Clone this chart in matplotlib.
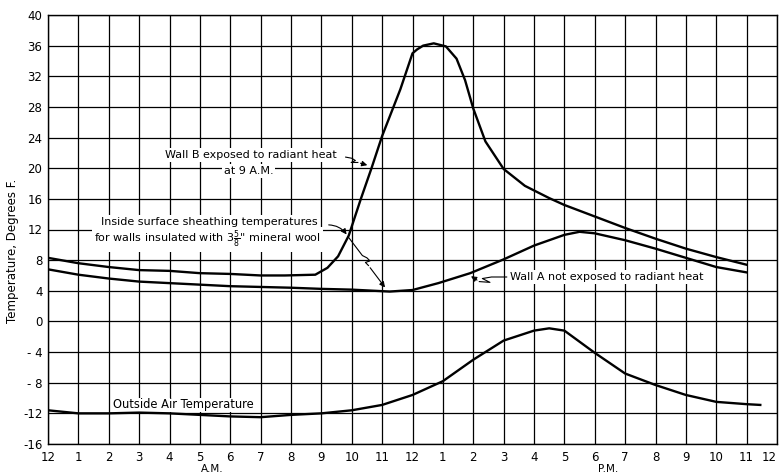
import matplotlib.pyplot as plt

# hours after midnight (0 = 12 A.M., 12 = noon, 24 = next midnight)
wall_b_hours = [0, 1, 2, 3, 4, 5, 6, 7, 7.8, 8.8, 9.2, 9.55, 9.9, 10.3, 10.65, 11.0, 11.6,
                12.0, 12.15, 12.35, 12.7, 13.1, 13.45, 13.73, 14.0, 14.4, 15.0, 15.7, 16.5,
                17, 18, 19, 20, 21, 22, 23]
wall_b = [8.3, 7.6, 7.1, 6.7, 6.6, 6.3, 6.2, 6.0, 6.0, 6.1, 7.0, 8.5, 11.2, 16.0, 20.0, 24.2, 30.3,
          35.0, 35.5, 36.0, 36.3, 35.9, 34.3, 31.5, 27.8, 23.5, 19.9, 17.7, 16.1,
          15.2, 13.7, 12.2, 10.8, 9.5, 8.4, 7.4]

wall_a_hours = [0, 1, 2, 3, 4, 5, 6, 7, 8, 9, 10, 11.25, 12, 12.85, 13.9, 15.0, 16.0, 17.0,
                17.5, 18.0, 19.0, 20.0, 21.0, 22.0, 23.0]
wall_a = [6.8, 6.1, 5.6, 5.2, 5.0, 4.8, 4.6, 4.5, 4.4, 4.25, 4.15, 3.9, 4.1, 5.0, 6.3, 8.1, 9.9, 11.3,
          11.7, 11.5, 10.6, 9.5, 8.3, 7.1, 6.4]

air_hours = [0, 1, 2, 3, 4, 5, 6, 7, 8, 9, 10, 11, 12, 13, 14, 15, 16, 16.5, 17, 18, 19, 20,
             21, 22, 23, 23.45]
air = [-11.6, -12.0, -12.0, -11.9, -12.0, -12.2, -12.4, -12.5, -12.2, -12.0, -11.6, -10.9, -9.6,
       -7.8, -5.0, -2.5, -1.2, -0.9, -1.2, -4.1, -6.8, -8.3, -9.6, -10.5, -10.8, -10.9]

x_labels = ['12', '1', '2', '3', '4', '5', '6', '7', '8', '9', '10', '11',
            '12', '1', '2', '3', '4', '5', '6', '7', '8', '9', '10', '11', '12']
y_values = list(range(-16, 41, 4))
y_labels = ['-16', '-12', '- 8', '- 4', '0', '4', '8', '12', '16', '20', '24', '28', '32', '36', '40']

plt.rcParams['font.family'] = ['DejaVu Sans']
plt.rcParams['mathtext.fontset'] = 'dejavusans'

fig = plt.figure(figsize=(7.79, 4.75), dpi=100)
ax = fig.add_axes([48 / 779, 31 / 475, 729 / 779, 429 / 475])

ax.plot(wall_b_hours, wall_b, color='black', lw=1.7, zorder=3)
ax.plot(wall_a_hours, wall_a, color='black', lw=1.7, zorder=3)
ax.plot(air_hours, air, color='black', lw=1.7, zorder=3)

ax.set_xlim(0, 24)
ax.set_ylim(-16, 40)
ax.set_xticks(range(25))
ax.set_xticklabels(x_labels, fontsize=8.5)
ax.get_xticklabels()[-1].set_horizontalalignment('right')
ax.set_yticks(y_values)
ax.set_yticklabels(y_labels, fontsize=8.5)
ax.tick_params(length=0, pad=5)
ax.tick_params(axis='y', pad=4)
ax.grid(True, color='black', lw=0.9)
ax.set_axisbelow(True)
for s in ax.spines.values():
    s.set_linewidth(1.0)

ax.set_ylabel('Temperature, Degrees F.', fontsize=8.5)
ax.yaxis.set_label_coords(-0.04, 0.45)

tr = ax.get_xaxis_transform()
ax.text(5.4, -0.058, 'A.M.', transform=tr, ha='center', va='center', fontsize=7.5)
ax.text(18.45, -0.058, 'P.M.', transform=tr, ha='center', va='center', fontsize=7.5)

box = dict(facecolor='white', edgecolor='none', pad=1.5)

# Wall B label
ax.text(6.68, 21.7, 'Wall B exposed to radiant heat', ha='center', va='center', fontsize=8, bbox=box, zorder=4)
ax.text(6.6, 19.6, 'at 9 A.M.', ha='center', va='center', fontsize=8, bbox=box, zorder=4)
ax.plot([9.8, 10.0, 10.12, 9.98, 10.2], [21.45, 21.3, 21.0, 20.75, 20.75], color='black', lw=0.8, zorder=4)
ax.annotate('', xy=(10.6, 20.3), xytext=(10.2, 20.75),
            arrowprops=dict(arrowstyle='-|>', lw=0.8, color='black', mutation_scale=8), zorder=4)

# inside surface label
ax.text(5.3, 13.0, 'Inside surface sheathing temperatures', ha='center', va='center',
        fontsize=8, bbox=box, zorder=4)
ax.text(5.25, 10.7, r'for walls insulated with $3\frac{5}{8}$" mineral wool', ha='center', va='center',
        fontsize=8, bbox=box, zorder=4)
ax.annotate('', xy=(9.88, 11.05), xytext=(9.15, 12.6),
            arrowprops=dict(arrowstyle='-|>', lw=0.8, color='black', mutation_scale=8,
                            connectionstyle='arc3,rad=-0.3'), zorder=4)
ax.plot([9.88, 10.35, 10.5, 10.6, 10.45, 10.55], [11.05, 8.6, 8.3, 7.9, 7.7, 7.3], color='black', lw=0.8, zorder=4)
ax.annotate('', xy=(11.15, 4.15), xytext=(10.55, 7.3),
            arrowprops=dict(arrowstyle='-|>', lw=0.8, color='black', mutation_scale=8), zorder=4)

# Wall A label
ax.text(15.2, 5.8, 'Wall A not exposed to radiant heat', ha='left', va='center', fontsize=8, bbox=box, zorder=4)
ax.plot([15.1, 14.6, 14.3, 14.55, 14.2], [5.8, 5.8, 5.6, 5.1, 5.2], color='black', lw=0.8, zorder=4)
ax.annotate('', xy=(13.85, 6.1), xytext=(14.2, 5.2),
            arrowprops=dict(arrowstyle='-|>', lw=0.8, color='black', mutation_scale=8), zorder=4)

ax.text(2.15, -10.9, 'Outside Air Temperature', ha='left', va='center', fontsize=8.3,
        bbox=dict(facecolor='white', edgecolor='none', pad=0.3), zorder=2.5)

fig.savefig('out.png', dpi=100)
